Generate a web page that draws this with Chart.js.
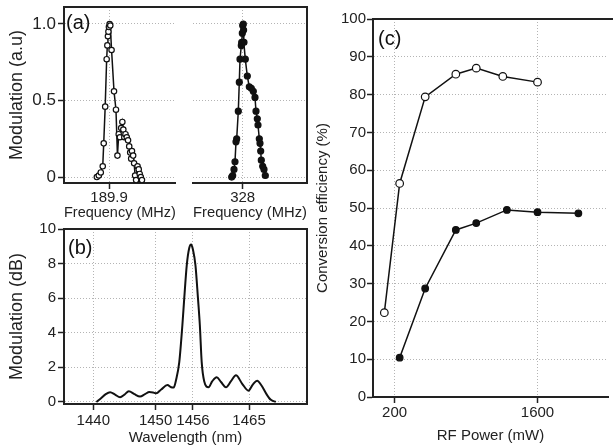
<!DOCTYPE html>
<html lang="en">
<head>
<meta charset="UTF-8">
<title>Modulation and conversion efficiency</title>
<script src="https://cdn.jsdelivr.net/npm/chart.js@4.4.1/dist/chart.umd.min.js"></script>
<style>
  body { margin: 0; background: #fff; }
  #wrap { position: relative; width: 613px; height: 447px; overflow: hidden; }
  canvas { position: absolute; }
</style>
</head>
<body>
<div id="wrap">
  <canvas id="chartA1" width="180" height="225" style="left:0;top:0"></canvas>
  <canvas id="chartA2" width="135" height="225" style="left:177px;top:0"></canvas>
  <canvas id="chartB" width="313" height="242" style="left:0;top:205px"></canvas>
  <canvas id="chartC" width="300" height="447" style="left:313px;top:0"></canvas>
</div>
<script>
// (a) left: frequency scan around 189.9 MHz
const freqA1 = [189.775, 189.795, 189.815, 189.835, 189.845, 189.86, 189.875, 189.882, 189.888, 189.893,
  189.898, 189.905, 189.912, 189.925, 189.95, 189.97, 189.985, 189.998, 190.01, 190.023,
  190.035, 190.045, 190.055, 190.067, 190.08, 190.093, 190.105, 190.115, 190.125, 190.133,
  190.145, 190.155, 190.165, 190.175, 190.19, 190.202, 190.212, 190.223, 190.235];
const modA1 = [0.00, 0.01, 0.03, 0.07, 0.22, 0.46, 0.77, 0.86, 0.92, 0.95,
  0.98, 1.00, 0.99, 0.83, 0.56, 0.44, 0.14, 0.28, 0.26, 0.32,
  0.36, 0.31, 0.26, 0.28, 0.26, 0.24, 0.20, 0.16, 0.12, 0.17,
  0.14, 0.09, 0.01, -0.02, 0.07, 0.05, 0.02, 0.00, -0.02];

// (a) right: frequency scan around 328 MHz
const freqA2 = [327.89, 327.90, 327.913, 327.923, 327.933, 327.94, 327.956, 327.966, 327.973, 327.986,
  327.99, 327.996, 328.0, 328.006, 328.009, 328.013, 328.026, 328.046, 328.066, 328.086,
  328.106, 328.123, 328.133, 328.146, 328.153, 328.166, 328.173, 328.18, 328.186, 328.2,
  328.213, 328.226];
const modA2 = [0.00, 0.01, 0.05, 0.10, 0.23, 0.25, 0.43, 0.62, 0.77, 0.86,
  0.88, 0.94, 0.99, 1.00, 0.96, 0.88, 0.77, 0.66, 0.59, 0.58,
  0.56, 0.52, 0.43, 0.38, 0.34, 0.25, 0.22, 0.17, 0.11, 0.07,
  0.05, 0.01];
const ticksAy = [0, 0.5, 1];

// (b) modulation vs wavelength
const wavelength = [1440.5, 1441.2, 1442.0, 1442.7, 1443.5, 1444.3, 1445.0, 1445.7, 1446.6, 1447.5,
  1448.3, 1449.0, 1449.6, 1450.1, 1450.9, 1451.9, 1452.5, 1452.9, 1453.3, 1453.8,
  1454.3, 1454.6, 1455.0, 1455.4, 1455.7, 1456.0, 1456.4, 1456.8, 1457.1, 1457.4,
  1457.8, 1458.5, 1459.1, 1459.8, 1460.5, 1461.3, 1462.1, 1462.9, 1463.9, 1464.9,
  1465.6, 1466.3, 1467.0, 1467.8, 1468.5, 1469.3];
const modB = [0.00, 0.20, 0.45, 0.56, 0.42, 0.27, 0.42, 0.62, 0.45, 0.31,
  0.45, 0.58, 0.55, 0.50, 0.72, 0.98, 0.85, 0.83, 1.3, 2.3,
  4.45, 6.0, 7.9, 8.9, 9.1, 8.8, 7.9, 6.0, 4.45, 2.3,
  1.2, 0.85, 1.2, 1.43, 1.15, 0.85, 1.2, 1.54, 1.05, 0.65,
  1.0, 1.23, 0.95, 0.45, 0.12, 0.00];
const ticksBx = [1440, 1450, 1456, 1465];
const ticksBy = [0, 2, 4, 6, 8, 10];

// (c) conversion efficiency vs RF power
const powerOpen = [100, 250, 500, 800, 1000, 1260, 1600];
const effOpen = [22.3, 56.5, 79.4, 85.4, 87.0, 84.8, 83.3];
const powerFilled = [250, 500, 800, 1000, 1300, 1600, 2000];
const effFilled = [10.4, 28.7, 44.2, 46.0, 49.5, 48.9, 48.6];
const ticksCx = [200, 1600];

const FONT = '"Liberation Sans", Arial, Helvetica, sans-serif';
Chart.defaults.font.family = FONT;
Chart.defaults.font.size = 15;
Chart.defaults.color = '#222';

const pts = (xs, ys) => xs.map((x, i) => ({x: x, y: ys[i]}));
// fixed axis sizes, no extra room for overhanging labels
const fixW = w => s => { s.width = w; s.paddingTop = 0; s.paddingBottom = 0; };
const fixH = h => s => { s.height = h; s.paddingLeft = 0; s.paddingRight = 0; };
const only = vals => s => { s.ticks = vals.map(v => ({value: v})); };

const GRID = {color: '#b4b4b4', lineWidth: 1, tickColor: '#222', tickWidth: 1.5, tickLength: 6};
const BORDER = {display: true, color: '#222', width: 2, dash: [1, 2]};

// draws the top / right frame lines and the panel letter
const framePlugin = {
  id: 'frame',
  afterDraw(chart, args, o) {
    const {ctx, chartArea: a} = chart;
    ctx.save();
    ctx.strokeStyle = '#222';
    ctx.lineWidth = 2;
    ctx.beginPath();
    ctx.moveTo(o.fromZero ? 0 : a.left - 1, a.top);
    ctx.lineTo(o.right ? a.right + 1 : chart.width, a.top);
    if (o.right) {
      ctx.moveTo(a.right, a.top);
      ctx.lineTo(a.right, a.bottom);
    }
    ctx.stroke();
    if (o.label) {
      ctx.font = '20px ' + FONT;
      ctx.fillStyle = '#111';
      ctx.textBaseline = 'middle';
      ctx.fillText(o.label, a.left + o.lx, a.top + o.ly);
    }
    ctx.restore();
  }
};

const lineDs = (data, filled, r) => ({
  data: data,
  borderColor: '#111',
  borderWidth: 1.5,
  pointRadius: r,
  pointBorderWidth: 1.2,
  pointBorderColor: '#111',
  pointBackgroundColor: filled ? '#111' : '#fff',
  tension: 0
});

const baseOpts = () => ({
  responsive: false,
  animation: false,
  plugins: {legend: {display: false}, tooltip: {enabled: false}},
  elements: {point: {hoverRadius: 3}}
});

// (a) left
new Chart(document.getElementById('chartA1'), {
  type: 'line',
  data: {datasets: [lineDs(pts(freqA1, modA1), false, 2.7)]},
  options: Object.assign(baseOpts(), {
    layout: {padding: {top: 7, right: 2}},
    plugins: {legend: {display: false}, tooltip: {enabled: false},
      frame: {label: '(a)', lx: 2, ly: 16}},
    scales: {
      x: {type: 'linear', min: 189.44, max: 190.58, afterBuildTicks: only([189.9]), afterFit: fixH(42),
        ticks: {padding: 0, callback: v => '189.9'}, grid: GRID, border: BORDER,
        title: {display: true, text: 'Frequency (MHz)', padding: {top: 0, bottom: 3}}},
      y: {min: -0.039, max: 1.111, afterBuildTicks: only(ticksAy), afterFit: fixW(64),
        ticks: {padding: 2, font: {size: 17}, callback: v => v === 0 ? '0' : v.toFixed(1)},
        grid: GRID, border: BORDER,
        title: {display: true, text: 'Modulation (a.u)', font: {size: 18}, padding: {top: 6, bottom: 0}}}
    }
  }),
  plugins: [framePlugin]
});

// (a) right
new Chart(document.getElementById('chartA2'), {
  type: 'line',
  data: {datasets: [lineDs(pts(freqA2, modA2), true, 3)]},
  options: Object.assign(baseOpts(), {
    layout: {padding: {top: 7, right: 5}},
    plugins: {legend: {display: false}, tooltip: {enabled: false}, frame: {fromZero: true, right: true}},
    scales: {
      x: {type: 'linear', min: 327.503, max: 328.643, afterBuildTicks: only([328]), afterFit: fixH(42),
        ticks: {padding: 0, callback: v => '328'}, grid: GRID, border: BORDER,
        title: {display: true, text: 'Frequency (MHz)', padding: {top: 0, bottom: 3}}},
      y: {min: -0.039, max: 1.111, afterBuildTicks: only(ticksAy), afterFit: fixW(16),
        ticks: {display: false}, grid: Object.assign({}, GRID, {drawTicks: false}),
        border: Object.assign({}, BORDER, {display: false})}
    }
  }),
  plugins: [framePlugin]
});

// (b)
new Chart(document.getElementById('chartB'), {
  type: 'line',
  data: {datasets: [Object.assign(lineDs(pts(wavelength, modB), true, 0), {borderWidth: 2, cubicInterpolationMode: 'monotone'})]},
  options: Object.assign(baseOpts(), {
    layout: {padding: {top: 24, right: 6}},
    plugins: {legend: {display: false}, tooltip: {enabled: false}, frame: {right: true, label: '(b)', lx: 4, ly: 19}},
    scales: {
      x: {type: 'linear', min: 1435.3, max: 1474.3, afterBuildTicks: only(ticksBx), afterFit: fixH(43),
        ticks: {padding: 2, callback: v => String(v)}, grid: GRID, border: BORDER,
        title: {display: true, text: 'Wavelength (nm)', padding: {top: 0, bottom: 0}}},
      y: {min: -0.12, max: 10, afterBuildTicks: only(ticksBy), afterFit: fixW(64), ticks: {padding: 2},
        grid: GRID, border: BORDER,
        title: {display: true, text: 'Modulation (dB)', font: {size: 18}, padding: {top: 6, bottom: 0}}}
    }
  }),
  plugins: [framePlugin]
});

// (c)
new Chart(document.getElementById('chartC'), {
  type: 'line',
  data: {datasets: [
    lineDs(pts(powerOpen, effOpen), false, 3.8),
    lineDs(pts(powerFilled, effFilled), true, 3.3)
  ]},
  options: Object.assign(baseOpts(), {
    layout: {padding: {top: 19}},
    plugins: {legend: {display: false}, tooltip: {enabled: false}, frame: {label: '(c)', lx: 5, ly: 20}},
    scales: {
      x: {type: 'linear', min: -11, max: 2290, afterBuildTicks: only(ticksCx), afterFit: fixH(50),
        ticks: {padding: 1, callback: v => String(v)}, grid: GRID, border: BORDER,
        title: {display: true, text: 'RF Power (mW)', padding: {top: 0, bottom: 2}}},
      y: {min: 0, max: 100, afterFit: fixW(60), ticks: {stepSize: 10, padding: 1},
        grid: GRID, border: BORDER,
        title: {display: true, text: 'Conversion efficiency (%)', padding: {top: 1, bottom: 0}}}
    }
  }),
  plugins: [framePlugin]
});
</script>
</body>
</html>
